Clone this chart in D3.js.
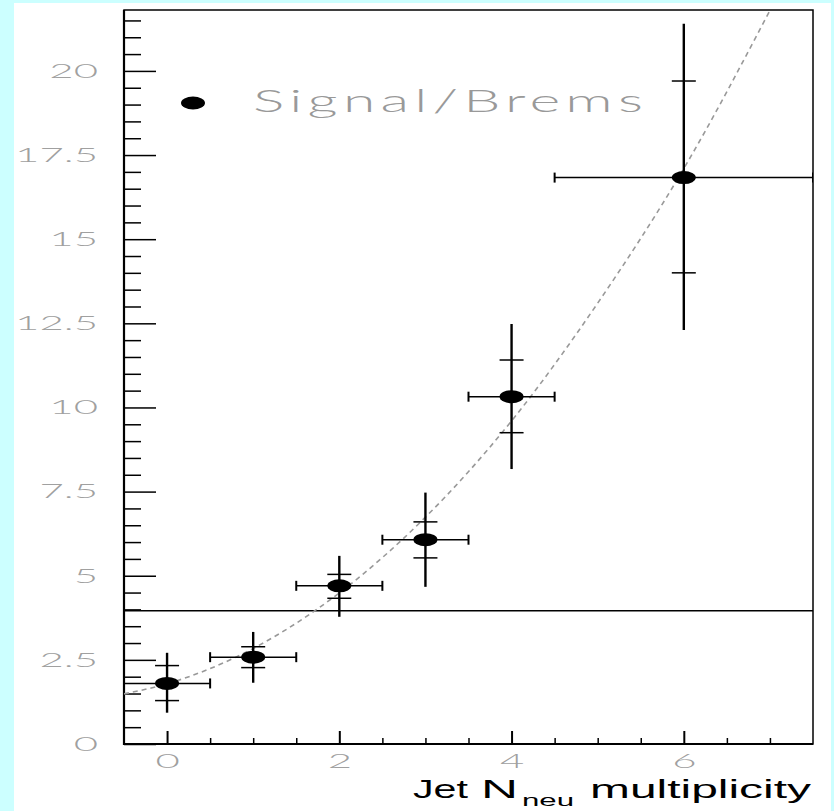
<!DOCTYPE html>
<html>
<head>
<meta charset="utf-8">
<script src="https://cdn.jsdelivr.net/npm/d3@7"></script>
<style>
  html, body { margin: 0; padding: 0; background: #ccffff; }
  svg { display: block; }
</style>
</head>
<body>
<svg id="chart" width="834" height="811"></svg>
<script>
// points
const nNeu      = [0, 1, 2, 3, 4, 6];
const nNeuErr   = [0.5, 0.5, 0.5, 0.5, 0.5, 1.5];
const ratio     = [1.80, 2.58, 4.70, 6.07, 10.32, 16.83];
// total error band (outer bar)
const ratioHigh = [2.71, 3.33, 5.59, 7.47, 12.48, 21.40];
const ratioLow  = [0.93, 1.82, 3.78, 4.67, 8.17, 12.30];
// stat error (inner cross marks)
const statHigh  = [2.33, 2.89, 5.04, 6.60, 11.41, 19.70];
const statLow   = [1.29, 2.27, 4.33, 5.53, 9.25, 14.00];

// dashed fit curve
const fitX = [-0.5, 0, 1, 2, 3, 4, 5, 6, 7];
const fitY = [1.49, 1.79, 2.84, 4.49, 6.74, 9.60, 13.10, 17.10, 21.80];

const cutLevel = 3.96;   // horizontal reference line
const yTicks = [0, 2.5, 5, 7.5, 10, 12.5, 15, 17.5, 20];
const xTicks = [0, 2, 4, 6];
const legendLabel = 'Signal/Brems';

const thinFont = 'Lato, "Open Sans", "Liberation Sans", sans-serif';
const svg = d3.select('#chart');

// white pad
svg.append('rect').attr('x', 14).attr('y', 3).attr('width', 817).attr('height', 808).attr('fill', '#fff');

const x = d3.scaleLinear().domain([-0.5, 7.5]).range([124, 813]);
const y = d3.scaleLinear().domain([0, 21.81]).range([744, 10]);

// the original canvas is stretched sideways, so text gets stretched too
const stretch = function (sel, k) {
    sel.each(function () {
        const w = this.getComputedTextLength();
        d3.select(this).attr('textLength', w * k).attr('lengthAdjust', 'spacingAndGlyphs');
    });
};

svg.append('clipPath').attr('id', 'frame')
  .append('rect').attr('x', 124).attr('y', 10).attr('width', 689).attr('height', 734);

// minor ticks first
const yMinor = d3.range(0, 21.8, 0.5).filter(v => yTicks.indexOf(v) < 0);
svg.append('g').attr('transform', 'translate(124,0)')
  .call(d3.axisLeft(y).tickValues(yMinor).tickSize(-17).tickFormat(''))
  .call(g => g.select('.domain').remove())
  .selectAll('line').attr('stroke', '#000').attr('stroke-width', 1.5);

const xMinor = d3.range(-0.5, 7.6, 0.5).filter(v => xTicks.indexOf(v) < 0 && v > -0.5 && v < 7.5);
svg.append('g').attr('transform', 'translate(0,744)')
  .call(d3.axisBottom(x).tickValues(xMinor).tickSize(-6).tickFormat(''))
  .call(g => g.select('.domain').remove())
  .selectAll('line').attr('stroke', '#000').attr('stroke-width', 1.5);

// major ticks + labels
const yAxis = svg.append('g').attr('transform', 'translate(124,0)')
  .call(d3.axisLeft(y).tickValues(yTicks).tickSize(-32).tickPadding(26).tickFormat(d3.format('')))
  .call(g => g.select('.domain').remove());
yAxis.selectAll('line').attr('stroke', '#000').attr('stroke-width', 1.5);
yAxis.selectAll('text').attr('font-family', thinFont).attr('font-weight', 300)
  .attr('font-size', 20).attr('fill', '#a0a0a0').call(stretch, 2.1);

const xAxis = svg.append('g').attr('transform', 'translate(0,744)')
  .call(d3.axisBottom(x).tickValues(xTicks).tickSize(-13).tickPadding(10).tickFormat(d3.format('d')))
  .call(g => g.select('.domain').remove());
xAxis.selectAll('line').attr('stroke', '#000').attr('stroke-width', 2);
xAxis.selectAll('text').attr('font-family', thinFont).attr('font-weight', 300)
  .attr('font-size', 20).attr('fill', '#a0a0a0').call(stretch, 2.1);

// frame
svg.append('rect').attr('x', 124).attr('y', 10).attr('width', 689).attr('height', 734)
  .attr('fill', 'none').attr('stroke', '#000').attr('stroke-width', 1.5);
svg.append('line').attr('x1', 124).attr('x2', 124).attr('y1', 10).attr('y2', 745)
  .attr('stroke', '#000').attr('stroke-width', 2.2);
svg.append('line').attr('x1', 123).attr('x2', 813).attr('y1', 744).attr('y2', 744)
  .attr('stroke', '#000').attr('stroke-width', 2.2);

// reference line
svg.append('line').attr('x1', x(-0.5)).attr('x2', x(7.5)).attr('y1', y(cutLevel)).attr('y2', y(cutLevel))
  .attr('stroke', '#000').attr('stroke-width', 1.5);

// fit curve
const fitPts = fitX.map((v, i) => [v, fitY[i]]);
svg.append('path').datum(fitPts)
  .attr('clip-path', 'url(#frame)')
  .attr('d', d3.line().x(d => x(d[0])).y(d => y(d[1])).curve(d3.curveMonotoneX))
  .attr('fill', 'none').attr('stroke', '#999').attr('stroke-width', 1.6)
  .attr('stroke-dasharray', '5,4');

// error bars
const pts = nNeu.map((v, i) => ({
    x: v, ex: nNeuErr[i], y: ratio[i],
    hi: ratioHigh[i], lo: ratioLow[i], shi: statHigh[i], slo: statLow[i]
}));
const bars = svg.append('g').attr('clip-path', 'url(#frame)')
  .selectAll('g').data(pts).join('g').attr('stroke', '#000');

bars.append('line')
  .attr('x1', d => x(d.x - d.ex)).attr('x2', d => x(d.x + d.ex))
  .attr('y1', d => y(d.y)).attr('y2', d => y(d.y)).attr('stroke-width', 1.5);
bars.append('line')
  .attr('x1', d => x(d.x - d.ex)).attr('x2', d => x(d.x - d.ex))
  .attr('y1', d => y(d.y) - 5).attr('y2', d => y(d.y) + 5).attr('stroke-width', 2);
bars.append('line')
  .attr('x1', d => x(d.x + d.ex)).attr('x2', d => x(d.x + d.ex))
  .attr('y1', d => y(d.y) - 5).attr('y2', d => y(d.y) + 5).attr('stroke-width', 2);
bars.append('line')
  .attr('x1', d => x(d.x)).attr('x2', d => x(d.x))
  .attr('y1', d => y(d.hi)).attr('y2', d => y(d.lo)).attr('stroke-width', 2.4);
bars.append('line')
  .attr('x1', d => x(d.x) - 12).attr('x2', d => x(d.x) + 12)
  .attr('y1', d => y(d.shi)).attr('y2', d => y(d.shi)).attr('stroke-width', 1.5);
bars.append('line')
  .attr('x1', d => x(d.x) - 12).attr('x2', d => x(d.x) + 12)
  .attr('y1', d => y(d.slo)).attr('y2', d => y(d.slo)).attr('stroke-width', 1.5);

svg.append('g').selectAll('ellipse').data(pts).join('ellipse')
  .attr('cx', d => x(d.x)).attr('cy', d => y(d.y))
  .attr('rx', 12).attr('ry', 6.5).attr('fill', '#000');

// legend: glyphs widened, then letter-spaced to the original width
const legScale = 1.9;
svg.append('ellipse').attr('cx', 193).attr('cy', 103).attr('rx', 12).attr('ry', 6.5).attr('fill', '#000');
svg.append('g').attr('transform', `translate(253,112) scale(${legScale},1)`)
  .append('text').attr('x', 0).attr('y', 0)
  .attr('font-family', thinFont).attr('font-weight', 300).attr('font-size', 31)
  .attr('fill', '#999')
  .attr('textLength', 390 / legScale).attr('lengthAdjust', 'spacing')
  .text(legendLabel);

// x title
const title = svg.append('g').attr('font-family', 'Liberation Sans, Arial, sans-serif').attr('fill', '#000');
title.append('text').attr('x', 413).attr('y', 798).attr('font-size', 25)
  .attr('textLength', 55).attr('lengthAdjust', 'spacingAndGlyphs').text('Jet');
title.append('text').attr('x', 481).attr('y', 798).attr('font-size', 25)
  .attr('textLength', 37).attr('lengthAdjust', 'spacingAndGlyphs').text('N');
title.append('text').attr('x', 522).attr('y', 806).attr('font-size', 16)
  .attr('textLength', 52).attr('lengthAdjust', 'spacingAndGlyphs').text('neu');
title.append('text').attr('x', 590).attr('y', 798).attr('font-size', 25)
  .attr('textLength', 221).attr('lengthAdjust', 'spacingAndGlyphs').text('multiplicity');
</script>
</body>
</html>
